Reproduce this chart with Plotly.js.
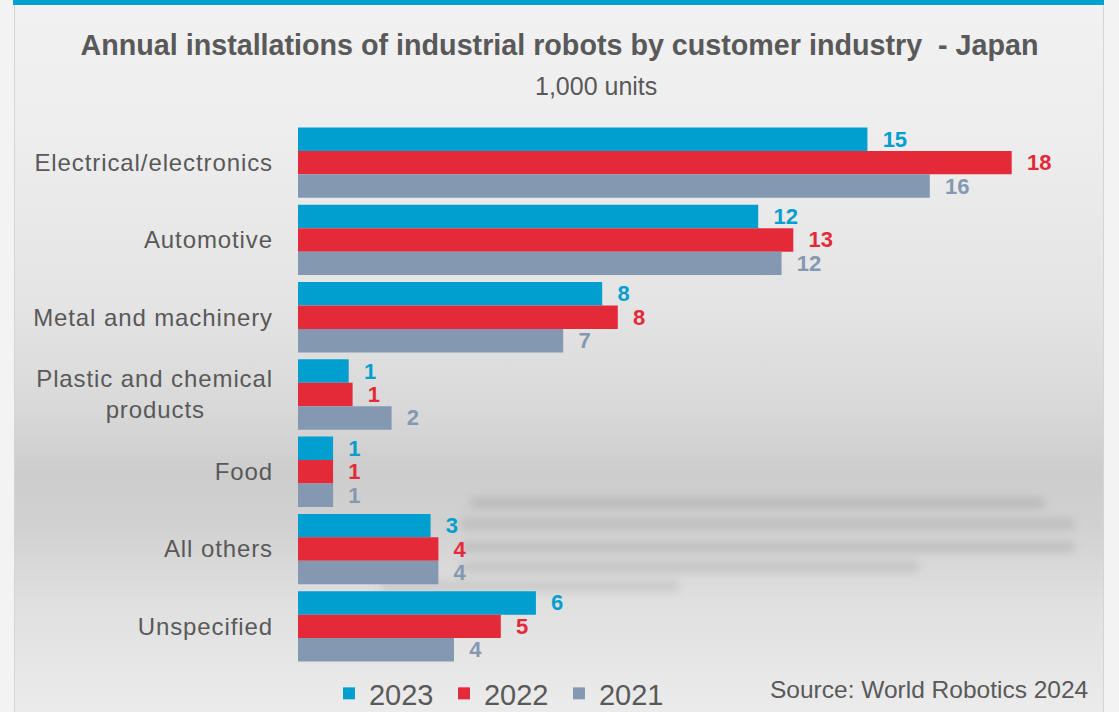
<!DOCTYPE html>
<html>
<head>
<meta charset="utf-8">
<script src="https://cdn.plot.ly/plotly-3.0.1.min.js"></script>
<style>
  html, body { margin: 0; padding: 0; background: #f3f3f3; }
  #wrap { position: relative; width: 1119px; height: 712px; overflow: hidden; background: #f3f3f3; }
  #panel { position: absolute; left: 14px; top: 5px; width: 1088px; height: 707px;
    border-left: 1px solid #d4d4d4; border-right: 1px solid #d4d4d4;
    background: linear-gradient(to bottom, #f1f1f1 0px, #eeeeee 120px, #e4e4e4 300px, #d9d9d9 400px, #cdcdcd 468px, #d1d1d1 520px, #e0e0e0 600px, #ececec 712px); }
  #topbar { position: absolute; left: 13px; top: 0; width: 1091px; height: 5px; background: #00a0d0; }
  .blur { position: absolute; height: 10px; background: #b0b0b0; filter: blur(5px); border-radius: 5px; }
  #chart { position: absolute; left: 0; top: 0; width: 1119px; height: 712px; }
  #chart .ytick text { letter-spacing: 0.9px; }
</style>
</head>
<body>
<div id="wrap">
  <div id="panel"></div>
  <div id="topbar"></div>
  <div class="blur" style="left:470px; top:498px; width:575px; opacity:0.75;"></div>
  <div class="blur" style="left:460px; top:519px; width:615px; opacity:0.65;"></div>
  <div class="blur" style="left:460px; top:542px; width:615px; opacity:0.65;"></div>
  <div class="blur" style="left:460px; top:562px; width:460px; opacity:0.55;"></div>
  <div class="blur" style="left:380px; top:581px; width:300px; opacity:0.45;"></div>
  <div id="chart"></div>
</div>
<script>
const categories = [
  "Electrical/electronics",
  "Automotive",
  "Metal and machinery",
  "Plastic and chemical<br>products\u00a0\u00a0\u00a0\u00a0\u00a0\u00a0\u00a0\u00a0\u00a0",
  "Food",
  "All others",
  "Unspecified"
];
const years = ["2023", "2022", "2021"];
const values2023 = [14.6, 11.8, 7.8, 1.3, 0.9, 3.4, 6.1];
const values2022 = [18.3, 12.7, 8.2, 1.4, 0.9, 3.6, 5.2];
const values2021 = [16.2, 12.4, 6.8, 2.4, 0.9, 3.6, 4.0];
const colors = ["#009fcf", "#e42a39", "#8598b2"];

const FONT = "Liberation Sans, Arial, sans-serif";
const series = [values2023, values2022, values2021];
const NB = "\u00a0\u00a0";
const traces = series.map((vals, i) => ({
  type: "bar",
  orientation: "h",
  name: years[i],
  y: categories,
  x: vals,
  marker: { color: colors[i], line: { width: 0 } },
  texttemplate: NB + "%{x:.0f}",
  textposition: "outside",
  constraintext: "none",
  cliponaxis: false,
  textfont: { family: FONT, size: 22, color: colors[i], weight: "bold" },
  hoverinfo: "skip"
}));

const layout = {
  width: 1119,
  height: 712,
  paper_bgcolor: "rgba(0,0,0,0)",
  plot_bgcolor: "rgba(0,0,0,0)",
  margin: { l: 298, r: 41, t: 124, b: 47 },
  barmode: "group",
  bargap: 0.09,
  bargroupgap: 0,
  font: { family: FONT, color: "#595959" },
  title: {
    text: "<b>Annual installations of industrial robots by customer industry  - Japan</b>",
    x: 0.5, xanchor: "center", xref: "container",
    y: 0.937, yanchor: "middle", yref: "container",
    font: { size: 28.7, color: "#595959", family: FONT }
  },
  xaxis: {
    range: [0, 20],
    showticklabels: false, showgrid: false, zeroline: false, showline: false, ticks: ""
  },
  yaxis: {
    autorange: "reversed",
    showgrid: false, zeroline: false, showline: false, ticks: "",
    ticklabelstandoff: 24,
    tickfont: { size: 24, color: "#595959", family: FONT }
  },
  showlegend: true,
  legend: {
    orientation: "h",
    xref: "container", yref: "container",
    x: 0.294, xanchor: "left",
    y: 0.026, yanchor: "middle",
    entrywidth: 70,
    entrywidthmode: "pixels",
    bgcolor: "rgba(0,0,0,0)",
    font: { size: 29, color: "#595959", family: FONT },
    itemclick: false, itemdoubleclick: false,
    traceorder: "normal"
  },
  annotations: [
    {
      text: "1,000 units",
      xref: "paper", yref: "paper",
      x: 0.382, y: 1.07, xanchor: "center", yanchor: "middle",
      showarrow: false,
      font: { size: 25, color: "#595959", family: FONT }
    },
    {
      text: "Source: World Robotics 2024",
      xref: "paper", yref: "paper",
      x: 1.015, y: -0.046, xanchor: "right", yanchor: "middle",
      showarrow: false,
      font: { size: 24.5, color: "#595959", family: FONT }
    }
  ]
};

Plotly.newPlot("chart", traces, layout, { staticPlot: true, displayModeBar: false });
</script>
</body>
</html>
